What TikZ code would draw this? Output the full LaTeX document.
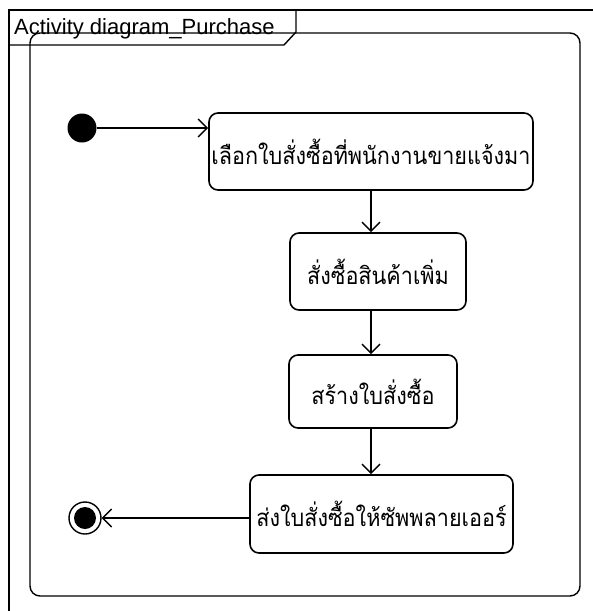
\documentclass[tikz,border=0pt]{standalone}
\usepackage{fontspec}
\setmainfont{Liberation Sans}
\newfontfamily\thaifont[Script=Thai,FakeStretch=0.9]{Loma}
\usetikzlibrary{arrows.meta}
\begin{document}
\begin{tikzpicture}[x=1pt,y=-1pt,
  frame/.style={line width=1.4pt},
  act/.style={draw,line width=1.6pt,rounded corners=9pt,inner sep=0pt,font=\thaifont\fontsize{24}{28}\selectfont},
  arr/.style={line width=1.4pt,-{Straight Barb[length=9pt,width=18pt,line width=1.4pt]}}]
\useasboundingbox (0,0) rectangle (593,611);
% outer frame
\draw[line width=1.2pt] (9,611) -- (9,10) -- (593,10);
\draw[frame] (9,45) -- (284,45) -- (296,32) -- (296,10);
\node[anchor=west,inner sep=0pt,font=\fontsize{22}{26}\selectfont] (title) at (14,29) {Activity diagram\_Purchase};
\draw[frame,rounded corners=10pt] (30,33) rectangle (580,596);
% nodes
\node[circle,fill=black,minimum size=29pt,inner sep=0pt] (init) at (82,128) {};
\node[act,minimum width=324pt,minimum height=77pt] (b1) at (371,151.5) {เลือกใบสั่งซื้อที่พนักงานขายแจ้งมา};
\node[act,minimum width=176pt,minimum height=77pt] (b2) at (378,271.5) {สั่งซื้อสินค้าเพิ่ม};
\node[act,minimum width=168pt,minimum height=73pt] (b3) at (373,391.5) {สร้างใบสั่งซื้อ};
\node[act,minimum width=263pt,minimum height=78pt] (b4) at (381.5,514) {ส่งใบสั่งซื้อให้ซัพพลายเออร์};
\node[circle,draw,line width=1.4pt,minimum size=32pt,inner sep=0pt] (fin) at (85,518) {};
\node[circle,fill=black,minimum size=22pt,inner sep=0pt] (fincore) at (fin) {};
% connectors
\draw[arr] (init.east) -- (init.east -| b1.west);
\draw[arr] (b1.south) -- (b1.south |- b2.north);
\draw[arr] (b2.south -| b1.south) -- (b1.south |- b3.north);
\draw[arr] (b3.south -| b1.south) -- (b1.south |- b4.north);
\draw[arr] (fin -| b4.west) -- (fin.east);
\end{tikzpicture}
\end{document}
